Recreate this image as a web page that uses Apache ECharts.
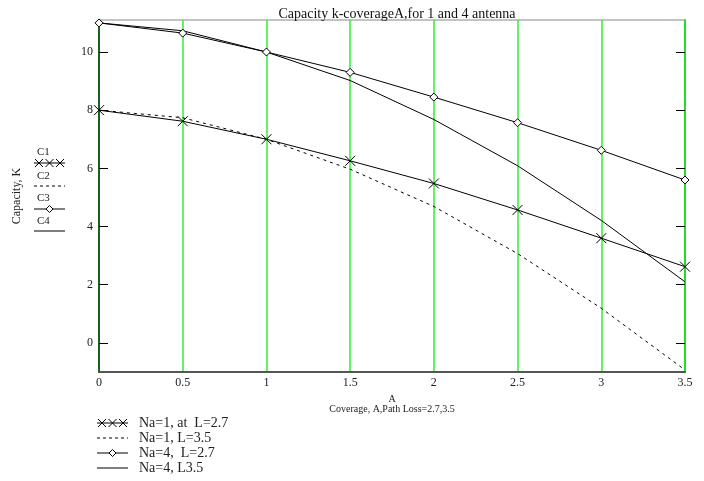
<!DOCTYPE html>
<html>
<head>
<meta charset="utf-8">
<script src="https://cdn.jsdelivr.net/npm/echarts@6/dist/echarts.min.js"></script>
<style>
  html, body { margin: 0; padding: 0; background: #fff; }
  #chart { width: 704px; height: 481px; }
</style>
</head>
<body>
<div id="chart"></div>
<script>
// coverage A (x axis)
const coverage = [0, 0.5, 1, 1.5, 2, 2.5, 3, 3.5]
// capacity K
const c1 = [8, 7.62, 7.0, 6.26, 5.48, 4.57, 3.6, 2.62]     // Na=1, L=2.7
const c2 = [8, 7.74, 7.0, 5.97, 4.69, 3.07, 1.19, -0.93]   // Na=1, L=3.5
const c3 = [11, 10.65, 10.0, 9.3, 8.45, 7.57, 6.62, 5.6]   // Na=4, L=2.7
const c4 = [11, 10.73, 10.0, 9.02, 7.68, 6.09, 4.21, 2.1]  // Na=4, L=3.5

const seriesNames = ['Na=1, at  L=2.7', 'Na=1, L=3.5', 'Na=4,  L=2.7', 'Na=4, L3.5']
const sideLabels = ['C1', 'C2', 'C3', 'C4']

const FONT = 'Liberation Serif'
const X_MARK = 'path://M0,0L10,10M10,0L0,10'

const pairs = (ys) => coverage.map((x, i) => [x, ys[i]])

// little drawing helpers for the hand made legends
function seg(x1, y1, x2, y2, dash) {
  return { type: 'line', shape: { x1, y1, x2, y2 }, style: { stroke: '#000', lineWidth: 1, lineDash: dash || null } }
}
function xMark(cx, cy, r) {
  return [seg(cx - r, cy - r, cx + r, cy + r), seg(cx - r, cy + r, cx + r, cy - r)]
}
function diamond(cx, cy, r) {
  return {
    type: 'polygon',
    shape: { points: [[cx, cy - r], [cx + r, cy], [cx, cy + r], [cx - r, cy]] },
    style: { fill: '#fff', stroke: '#000', lineWidth: 1 }
  }
}
function label(x, y, text, size) {
  return { type: 'text', x, y, style: { text, font: size + 'px "' + FONT + '"', fill: '#222', verticalAlign: 'middle' } }
}
function sample(kind, x1, x2, y) {
  const mid = (x1 + x2) / 2
  if (kind === 0) return [seg(x1, y, x2, y), ...xMark(x1 + 5, y, 4), ...xMark(mid, y, 4), ...xMark(x2 - 5, y, 4)]
  if (kind === 1) return [seg(x1, y, x2, y, [3, 3])]
  if (kind === 2) return [seg(x1, y, x2, y), diamond(mid, y, 3.5)]
  return [seg(x1, y, x2, y)]
}

const graphics = []
const sideTextY = [152, 176, 198, 221]
const sideMarkY = [163, 186, 209, 231]
sideLabels.forEach((t, i) => {
  graphics.push(label(37, sideTextY[i], t, 11))
  graphics.push(...sample(i, 34, 65, sideMarkY[i]))
})
const bottomY = [423, 438, 453, 468]
seriesNames.forEach((t, i) => {
  graphics.push(...sample(i, 97, 128, bottomY[i]))
  graphics.push(label(139, bottomY[i], t, 14))
})

function yAxisBase(position, lineColor) {
  return {
    type: 'value',
    position,
    min: -1,
    max: 11.1,
    splitNumber: 6,
    splitLine: { show: false },
    axisLine: { show: true, onZero: false, lineStyle: { color: lineColor, width: 2 } },
    axisTick: { show: true, inside: true, length: 9, lineStyle: { color: '#000', width: 1 } }
  }
}

const leftAxis = yAxisBase('left', '#1b5e20')
leftAxis.name = 'Capacity, K'
leftAxis.nameLocation = 'middle'
leftAxis.nameGap = 76
leftAxis.nameTextStyle = { fontFamily: FONT, fontSize: 12, color: '#222' }
leftAxis.axisLabel = { fontFamily: FONT, fontSize: 12, color: '#222', margin: 6, showMinLabel: false, showMaxLabel: false }

// right axis: only the inside ticks are wanted; labels kept but invisible
const rightAxis = yAxisBase('right', '#22dd22')
rightAxis.axisLabel = { show: true, inside: true, color: 'rgba(0,0,0,0)', fontSize: 8, showMinLabel: false, showMaxLabel: false }

const chart = echarts.init(document.getElementById('chart'))
chart.setOption({
  animation: false,
  textStyle: { fontFamily: FONT },
  title: {
    text: 'Capacity k-coverageA,for 1 and 4 antenna',
    left: 392,
    textAlign: 'center',
    top: 2,
    textStyle: { fontFamily: FONT, fontSize: 14, fontWeight: 'normal', color: '#111' }
  },
  grid: { left: 99, right: 19, top: 20, bottom: 109, outerBoundsMode: 'none', show: true, borderColor: '#888', borderWidth: 1 },
  xAxis: {
    type: 'value',
    min: 0,
    max: 3.5,
    interval: 0.5,
    name: 'A\nCoverage, A,Path Loss=2.7,3.5',
    nameLocation: 'middle',
    nameGap: 10,
    nameTextStyle: { fontFamily: FONT, fontSize: 10, color: '#222', lineHeight: 10, verticalAlign: 'top' },
    axisLine: { onZero: false, lineStyle: { color: '#555', width: 2 } },
    axisTick: { show: false },
    axisLabel: { fontFamily: FONT, fontSize: 12, color: '#222', margin: 5 },
    splitLine: { show: true, lineStyle: { color: '#33ee33', width: 1.5 } }
  },
  yAxis: [leftAxis, rightAxis],
  series: [
    {
      name: seriesNames[0], type: 'line', data: pairs(c1),
      symbol: X_MARK, symbolSize: 10,
      itemStyle: { color: '#000', borderColor: '#000', borderWidth: 1 },
      lineStyle: { color: '#000', width: 1 }
    },
    {
      name: seriesNames[1], type: 'line', data: pairs(c2), showSymbol: false,
      lineStyle: { color: '#000', width: 1, type: [3, 4] },
      itemStyle: { color: '#000' }
    },
    {
      name: seriesNames[2], type: 'line', data: pairs(c3),
      symbol: 'diamond', symbolSize: 8,
      itemStyle: { color: '#fff', borderColor: '#000', borderWidth: 1 },
      lineStyle: { color: '#000', width: 1 }
    },
    {
      // same fixed scale on the right axis, so its ticks get drawn too
      name: seriesNames[3], type: 'line', data: pairs(c4), showSymbol: false, yAxisIndex: 1,
      lineStyle: { color: '#000', width: 1 },
      itemStyle: { color: '#000' }
    }
  ],
  graphic: graphics
})
</script>
</body>
</html>
